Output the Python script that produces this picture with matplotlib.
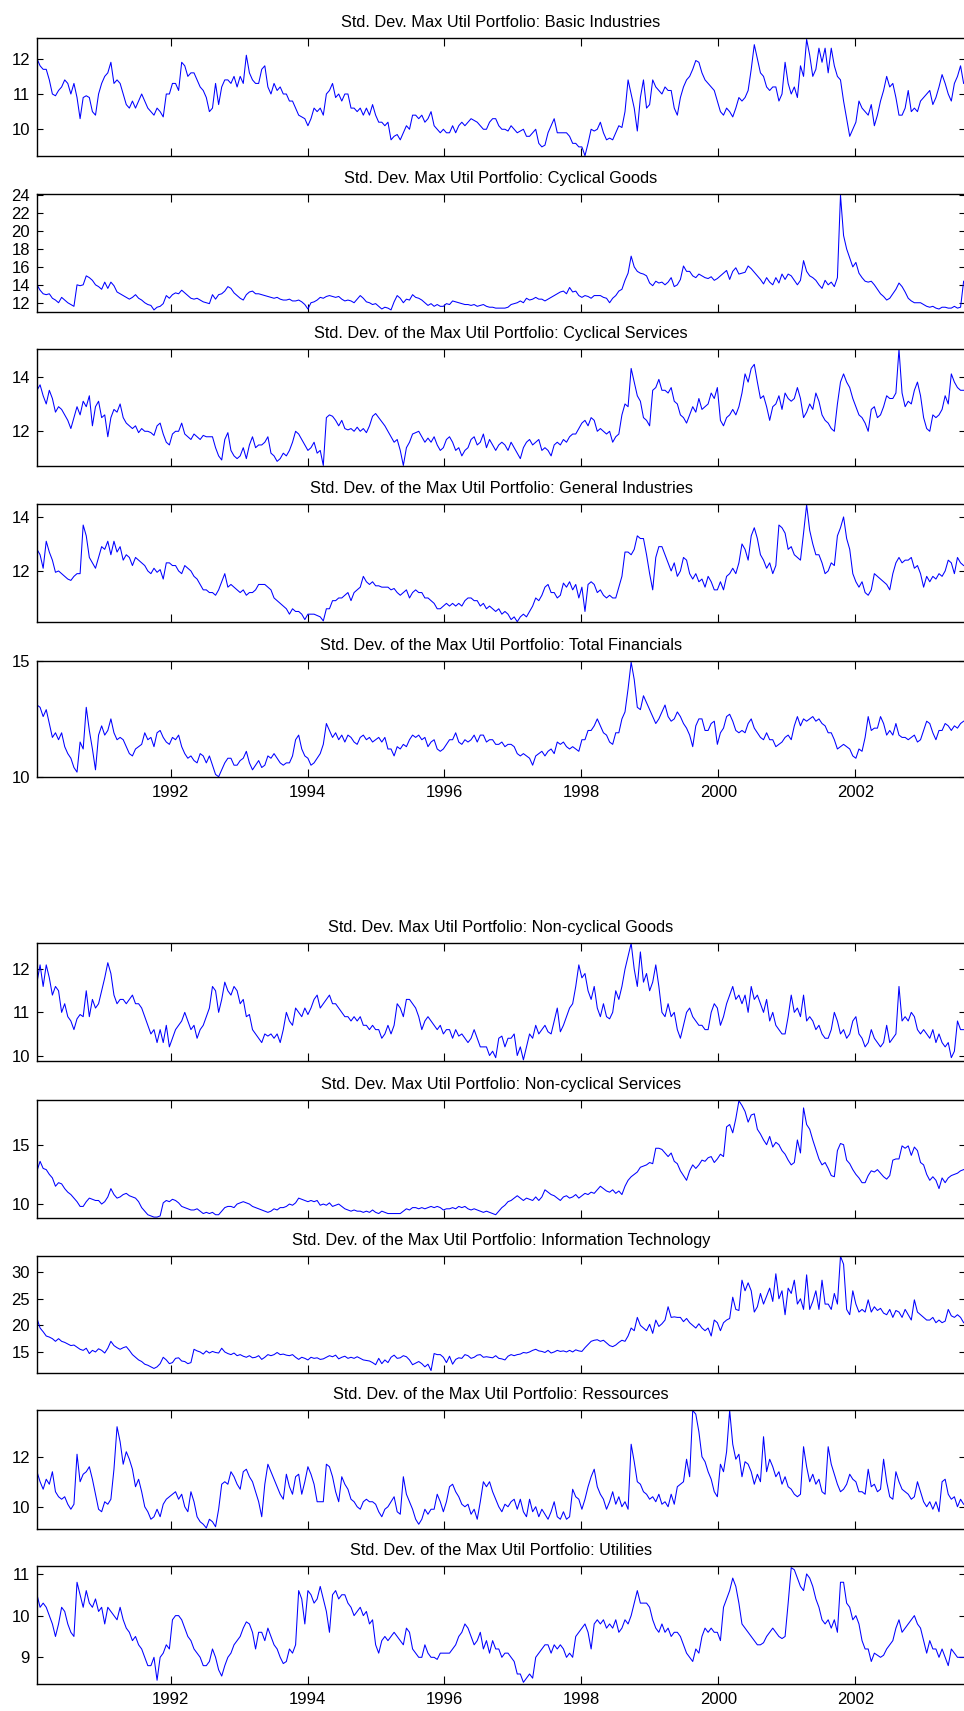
import numpy as np
import matplotlib
matplotlib.use("Agg")
import matplotlib.pyplot as plt

plt.rcParams['font.family'] = ['Liberation Sans', 'DejaVu Sans']

# sampling span of the series (decimal years)
start_year = 1990.05
end_year = 2003.58
year_ticks = [1992, 1994, 1996, 1998, 2000, 2002]

titles = [
    "Std. Dev. Max Util Portfolio: Basic Industries",
    "Std. Dev. Max Util Portfolio: Cyclical Goods",
    "Std. Dev. of the Max Util Portfolio: Cyclical Services",
    "Std. Dev. of the Max Util Portfolio: General Industries",
    "Std. Dev. of the Max Util Portfolio: Total Financials",
    "Std. Dev. Max Util Portfolio: Non-cyclical Goods",
    "Std. Dev. Max Util Portfolio: Non-cyclical Services",
    "Std. Dev. of the Max Util Portfolio: Information Technology",
    "Std. Dev. of the Max Util Portfolio: Ressources",
    "Std. Dev. of the Max Util Portfolio: Utilities",
]

basic_industries = [
    12.0, 11.8, 11.7, 11.7, 11.4, 11.0, 10.95, 11.1, 11.2, 11.4, 11.3, 11.0, 11.3, 10.9, 10.3, 10.9, 10.95, 10.9, 10.5, 10.4,
    11.0, 11.3, 11.5, 11.6, 11.9, 11.3, 11.4, 11.3, 11.0, 10.7, 10.6, 10.8, 10.6, 10.8, 11.0, 10.8, 10.6, 10.5, 10.4, 10.6,
    10.5, 10.35, 11.0, 11.0, 11.3, 11.3, 11.1, 11.9, 11.8, 11.5, 11.6, 11.6, 11.4, 11.2, 11.1, 10.9, 10.5, 10.6, 11.3, 10.7,
    11.2, 11.4, 11.4, 11.3, 11.5, 11.2, 11.5, 11.3, 12.1, 11.6, 11.4, 11.3, 11.3, 11.7, 11.8, 11.2, 11.0, 11.3, 11.1, 11.2,
    11.0, 11.0, 10.8, 10.8, 10.6, 10.4, 10.35, 10.3, 10.1, 10.3, 10.6, 10.5, 10.6, 10.4, 11.0, 11.1, 11.3, 10.9, 11.0, 10.8,
    11.0, 11.0, 10.6, 10.6, 10.5, 10.6, 10.4, 10.6, 10.4, 10.7, 10.4, 10.2, 10.2, 10.1, 10.2, 9.7, 9.8, 9.85, 9.7, 9.9,
    10.1, 10.0, 10.4, 10.4, 10.3, 10.4, 10.2, 10.3, 10.5, 10.1, 10.0, 9.9, 10.0, 9.9, 9.9, 10.1, 9.9, 10.1, 10.2, 10.1,
    10.2, 10.3, 10.25, 10.2, 10.1, 10.0, 10.0, 10.2, 10.3, 10.3, 10.1, 10.0, 10.0, 9.95, 10.1, 10.0, 9.9, 9.95, 10.0, 9.8,
    9.8, 9.9, 10.0, 9.6, 9.5, 9.55, 9.9, 10.1, 10.3, 9.9, 9.9, 9.9, 9.9, 9.8, 9.6, 9.6, 9.5, 9.5, 9.25, 9.6,
    10.0, 9.95, 10.0, 10.2, 9.9, 9.7, 9.75, 9.7, 9.9, 10.1, 10.05, 10.5, 11.4, 11.0, 10.6, 9.95, 10.9, 11.4, 10.6, 10.7,
    11.4, 11.2, 11.1, 11.0, 11.2, 11.1, 11.1, 10.6, 10.4, 10.9, 11.2, 11.4, 11.5, 11.7, 11.95, 11.9, 11.6, 11.4, 11.3, 11.2,
    11.1, 10.8, 10.5, 10.4, 10.6, 10.5, 10.35, 10.6, 10.9, 10.8, 10.9, 11.1, 11.7, 12.4, 12.0, 11.6, 11.5, 11.2, 11.1, 11.2,
    11.2, 10.8, 11.0, 11.9, 11.3, 11.0, 11.2, 10.9, 11.8, 11.5, 12.55, 12.1, 11.5, 11.7, 12.3, 11.9, 12.3, 11.6, 12.3, 11.8,
    11.5, 11.4, 10.8, 10.3, 9.8, 10.0, 10.2, 10.8, 10.6, 10.5, 10.4, 10.7, 10.1, 10.4, 10.8, 11.1, 11.5, 11.2, 11.3, 10.9,
    10.4, 10.4, 10.6, 11.1, 10.5, 10.6, 10.5, 10.8, 10.9, 11.0, 11.1, 10.7, 10.9, 11.2, 11.55, 11.3, 11.0, 10.8, 11.3, 11.5,
    11.8, 11.3,
]

cyclical_goods = [
    14.0, 13.4, 13.0, 12.9, 13.0, 12.5, 12.3, 12.0, 12.6, 12.3, 12.0, 11.8, 11.6, 14.0, 13.9, 14.0, 15.0, 14.8, 14.5, 14.0,
    13.8, 13.5, 14.3, 13.6, 14.3, 13.9, 13.2, 13.0, 12.8, 12.6, 12.4, 12.6, 12.9, 12.5, 12.3, 12.0, 11.8, 11.7, 11.2, 11.5,
    11.6, 11.9, 12.8, 12.5, 12.9, 13.1, 13.0, 13.4, 13.1, 12.8, 12.5, 12.4, 12.5, 12.3, 12.1, 12.0, 11.9, 12.9, 12.4, 12.9,
    13.0, 13.3, 13.8, 13.6, 13.1, 12.8, 12.5, 12.3, 12.9, 13.2, 13.3, 13.0, 13.0, 12.9, 12.8, 12.7, 12.6, 12.5, 12.6, 12.4,
    12.3, 12.3, 12.4, 12.2, 12.2, 12.3, 12.1, 11.8, 11.3, 12.0, 12.1, 12.3, 12.6, 12.5, 12.7, 12.8, 12.7, 12.6, 12.7, 12.4,
    12.2, 12.3, 12.2, 12.0, 12.4, 12.8, 12.5, 12.1, 12.0, 11.8, 11.9, 11.6, 11.3, 11.5, 11.4, 11.2, 12.1, 12.8, 12.5, 12.0,
    12.4, 12.3, 12.9, 12.6, 12.5, 12.3, 12.0, 11.7, 11.9, 11.6, 11.8, 11.6, 11.6, 11.9, 11.8, 12.2, 12.1, 12.0, 11.9, 11.8,
    11.8, 11.7, 11.8, 11.6, 11.7, 11.8, 11.6, 11.5, 11.5, 11.4, 11.4, 11.4, 11.4, 11.5, 11.8, 11.9, 12.0, 12.2, 12.0, 12.5,
    12.3, 12.4, 12.6, 12.4, 12.4, 12.2, 12.4, 12.6, 12.8, 13.0, 13.2, 13.3, 13.0, 13.7, 13.2, 13.3, 12.8, 12.6, 12.8, 12.7,
    12.5, 12.8, 12.8, 12.8, 12.6, 12.5, 12.0, 12.5, 12.8, 13.3, 13.5, 14.5, 15.3, 17.2, 16.0, 15.5, 15.3, 15.2, 15.0, 14.2,
    13.9, 14.4, 14.2, 14.3, 14.0, 14.3, 14.8, 13.8, 14.0, 14.6, 16.1, 15.5, 15.5, 15.0, 14.8, 15.2, 15.0, 14.8, 14.7, 14.9,
    14.5, 14.7, 15.0, 15.3, 15.6, 14.6, 15.5, 15.9, 15.2, 15.3, 15.4, 16.1, 15.8, 15.4, 15.0, 14.6, 14.1, 14.8, 14.3, 14.0,
    14.8, 14.2, 15.2, 14.6, 15.2, 15.0, 14.5, 14.0, 14.5, 16.7, 15.5, 15.0, 14.8, 14.5, 14.0, 13.6, 14.5, 14.0, 14.3, 13.8,
    14.8, 24.0, 19.5, 18.0, 17.0, 16.0, 16.5, 15.3, 14.8, 14.4, 14.3, 14.4, 14.0, 13.5, 13.0, 12.7, 12.3, 12.5, 13.0, 13.5,
    14.2, 13.8, 13.2, 12.5, 12.2, 12.0, 12.0, 12.0, 11.8, 11.6, 11.5, 11.6, 11.4, 11.3, 11.5, 11.5, 11.4, 11.4, 11.6, 11.4,
    11.5, 14.4,
]

cyclical_services = [
    13.5, 13.7, 13.3, 13.0, 13.5, 13.2, 12.7, 12.9, 12.8, 12.6, 12.4, 12.1, 12.5, 12.9, 12.6, 13.1, 12.9, 13.3, 12.2, 12.9,
    13.1, 12.5, 12.6, 11.8, 12.5, 12.8, 12.7, 13.0, 12.5, 12.3, 12.2, 12.1, 12.2, 11.95, 12.1, 12.0, 12.0, 11.95, 11.85, 12.2,
    12.3, 11.9, 11.6, 11.5, 11.9, 12.0, 12.0, 12.3, 11.9, 11.8, 11.7, 11.9, 11.8, 11.7, 11.85, 11.8, 11.8, 11.8, 11.4, 11.1,
    10.95, 11.7, 11.95, 11.3, 11.1, 11.0, 11.1, 11.4, 11.0, 11.5, 11.8, 11.4, 11.5, 11.5, 11.6, 11.8, 11.2, 11.1, 10.9, 11.0,
    11.2, 11.1, 11.3, 11.6, 12.0, 11.9, 11.7, 11.5, 11.3, 11.4, 11.6, 11.2, 11.3, 10.75, 12.5, 12.6, 12.55, 12.4, 12.2, 12.4,
    12.1, 12.05, 12.1, 12.0, 12.15, 12.0, 12.1, 11.95, 12.2, 12.55, 12.65, 12.5, 12.35, 12.2, 12.0, 11.8, 11.6, 11.7, 11.3, 10.75,
    11.4, 11.6, 11.9, 11.95, 12.0, 11.8, 11.6, 11.75, 11.6, 11.8, 11.5, 11.3, 11.4, 11.7, 11.8, 11.6, 11.3, 11.4, 11.1, 11.3,
    11.4, 11.7, 11.8, 11.5, 11.6, 11.9, 11.4, 11.7, 11.5, 11.3, 11.5, 11.6, 11.5, 11.3, 11.6, 11.4, 11.2, 11.0, 11.4, 11.6,
    11.7, 11.5, 11.6, 11.7, 11.3, 11.4, 11.3, 11.1, 11.5, 11.6, 11.5, 11.7, 11.6, 11.8, 11.9, 11.9, 12.1, 12.3, 12.4, 12.2,
    12.5, 12.4, 12.0, 12.1, 12.0, 11.9, 12.0, 11.6, 11.8, 11.9, 12.6, 13.0, 12.9, 14.3, 13.8, 13.3, 13.1, 12.5, 12.4, 12.2,
    13.5, 13.6, 13.9, 13.5, 13.5, 13.4, 13.6, 13.1, 13.0, 12.6, 12.5, 12.3, 12.6, 12.9, 12.7, 13.2, 12.8, 12.9, 13.0, 13.4,
    13.2, 13.6, 12.4, 12.2, 12.5, 12.6, 12.8, 12.6, 12.9, 13.4, 14.1, 13.8, 14.3, 14.45, 13.8, 13.2, 13.3, 12.9, 12.4, 12.9,
    13.0, 13.3, 12.8, 13.4, 13.2, 13.1, 13.2, 13.6, 13.2, 12.5, 12.7, 13.0, 12.8, 13.4, 13.1, 12.6, 12.4, 12.3, 12.1, 12.0,
    13.0, 13.8, 14.1, 13.8, 13.6, 13.2, 12.9, 12.6, 12.5, 12.3, 12.0, 12.8, 12.9, 12.5, 12.6, 12.9, 13.3, 13.2, 13.2, 13.4,
    15.0, 13.4, 12.9, 13.1, 13.0, 13.5, 13.8, 13.3, 12.5, 12.1, 12.0, 12.6, 12.5, 12.6, 12.8, 13.3, 13.0, 14.1, 13.8, 13.6,
    13.5, 13.5,
]

general_industries = [
    12.8, 12.6, 12.1, 13.1, 12.7, 12.4, 11.95, 12.0, 11.9, 11.8, 11.7, 11.65, 11.8, 11.9, 11.9, 13.7, 13.3, 12.5, 12.3, 12.1,
    12.5, 12.9, 12.8, 13.1, 12.6, 13.1, 12.7, 12.9, 12.4, 12.6, 12.5, 12.2, 12.5, 12.4, 12.3, 12.2, 12.0, 11.9, 12.1, 11.95,
    12.05, 11.7, 12.3, 12.3, 12.2, 12.2, 12.0, 11.9, 12.2, 12.1, 12.0, 11.8, 11.7, 11.5, 11.3, 11.3, 11.2, 11.2, 11.1, 11.3,
    11.6, 11.9, 11.4, 11.5, 11.4, 11.3, 11.2, 11.3, 11.1, 11.2, 11.2, 11.3, 11.5, 11.5, 11.5, 11.4, 11.3, 11.0, 10.9, 10.8,
    10.7, 10.6, 10.4, 10.6, 10.5, 10.5, 10.4, 10.2, 10.4, 10.4, 10.4, 10.35, 10.3, 10.15, 10.6, 10.6, 10.9, 10.9, 11.0, 11.0,
    11.1, 11.2, 10.9, 11.2, 11.3, 11.4, 11.8, 11.6, 11.5, 11.6, 11.45, 11.45, 11.4, 11.4, 11.4, 11.3, 11.35, 11.2, 11.1, 11.2,
    11.3, 11.0, 11.2, 11.3, 11.2, 11.2, 11.0, 11.0, 10.9, 10.8, 10.6, 10.6, 10.7, 10.8, 10.7, 10.8, 10.7, 10.8, 10.7, 10.9,
    11.0, 11.0, 10.9, 10.9, 10.7, 10.8, 10.6, 10.7, 10.6, 10.5, 10.6, 10.4, 10.5, 10.4, 10.2, 10.3, 10.12, 10.3, 10.4, 10.3,
    10.5, 10.7, 11.0, 10.9, 11.1, 11.4, 11.5, 11.2, 11.2, 11.0, 11.1, 11.55, 11.4, 11.6, 11.3, 11.5, 11.0, 11.4, 10.5, 11.5,
    11.6, 11.5, 11.2, 11.3, 11.1, 11.0, 11.1, 11.0, 11.0, 11.4, 11.8, 12.7, 12.7, 12.6, 12.8, 13.3, 13.2, 13.2, 12.6, 11.9,
    11.3, 12.5, 12.9, 12.9, 12.6, 12.3, 12.0, 12.3, 11.8, 12.0, 12.5, 12.4, 11.9, 11.7, 11.9, 11.6, 11.7, 11.4, 11.8, 11.6,
    11.3, 11.3, 11.6, 11.3, 11.8, 11.9, 12.1, 11.9, 12.3, 13.0, 12.8, 12.4, 13.3, 13.6, 13.2, 12.6, 12.4, 12.1, 12.3, 11.9,
    12.2, 13.7, 13.6, 13.4, 12.8, 12.9, 12.6, 12.5, 12.4, 13.4, 14.45, 13.5, 13.0, 12.6, 12.6, 12.3, 11.9, 12.0, 12.3, 12.2,
    13.3, 13.6, 14.0, 13.2, 12.8, 11.9, 11.6, 11.4, 11.6, 11.2, 11.1, 11.3, 11.9, 11.8, 11.7, 11.6, 11.5, 11.3, 11.9, 12.3,
    12.5, 12.3, 12.4, 12.4, 12.5, 12.1, 12.2, 11.9, 11.4, 11.8, 11.6, 11.8, 11.7, 11.9, 11.8, 12.0, 12.4, 12.3, 11.9, 12.5,
    12.3, 12.2,
]

total_financials = [
    13.1, 13.0, 12.6, 12.9, 12.3, 11.7, 11.9, 11.6, 11.9, 11.3, 11.0, 10.8, 10.4, 10.2, 11.5, 11.2, 13.0, 12.0, 11.2, 10.3,
    11.8, 12.2, 11.8, 12.0, 12.5, 11.9, 11.6, 11.7, 11.6, 11.3, 11.0, 10.9, 11.2, 11.3, 11.4, 11.9, 11.6, 11.7, 11.3, 11.9,
    12.0, 11.7, 11.5, 11.4, 11.7, 11.6, 11.8, 11.3, 11.0, 10.8, 10.9, 10.7, 10.6, 11.0, 10.9, 10.6, 10.9, 10.5, 10.1, 10.0,
    10.3, 10.6, 10.8, 10.8, 10.5, 10.5, 10.7, 10.8, 11.1, 10.6, 10.3, 10.5, 10.7, 10.4, 10.5, 10.9, 10.8, 11.0, 10.8, 10.6,
    10.5, 10.6, 10.6, 10.9, 11.6, 11.8, 11.2, 10.9, 10.8, 10.5, 10.6, 10.8, 11.0, 11.4, 12.3, 12.0, 11.7, 11.9, 11.6, 11.8,
    11.5, 11.8, 11.7, 11.5, 11.4, 11.7, 11.8, 11.6, 11.7, 11.5, 11.6, 11.7, 11.5, 11.7, 11.2, 11.2, 10.9, 11.3, 11.2, 11.4,
    11.3, 11.6, 11.8, 11.7, 11.8, 11.6, 11.7, 11.3, 11.5, 11.6, 11.2, 11.1, 11.2, 11.4, 11.6, 11.6, 11.9, 11.5, 11.4, 11.6,
    11.5, 11.6, 11.8, 11.5, 11.8, 11.8, 11.5, 11.6, 11.6, 11.4, 11.4, 11.5, 11.3, 11.4, 11.4, 11.3, 11.0, 10.9, 11.0, 10.9,
    10.8, 10.5, 10.9, 11.0, 11.1, 10.9, 11.1, 11.2, 11.0, 11.5, 11.4, 11.5, 11.3, 11.2, 11.3, 11.2, 11.1, 11.6, 11.6, 12.0,
    12.0, 12.2, 12.5, 12.2, 11.9, 11.8, 11.5, 11.4, 11.9, 11.9, 12.5, 12.8, 13.8, 14.95, 14.2, 13.0, 12.9, 13.5, 13.2, 12.9,
    12.6, 12.3, 12.5, 12.8, 13.1, 12.6, 12.4, 12.5, 12.8, 12.6, 12.3, 12.1, 11.8, 11.3, 12.2, 12.5, 12.5, 12.0, 12.0, 12.3,
    12.4, 11.4, 11.9, 12.1, 12.6, 12.7, 12.4, 12.0, 11.9, 12.0, 11.9, 12.3, 12.5, 12.1, 11.9, 11.7, 11.6, 11.9, 11.6, 11.6,
    11.3, 11.4, 11.5, 11.7, 11.8, 11.6, 12.2, 12.6, 12.2, 12.5, 12.4, 12.5, 12.6, 12.4, 12.5, 12.3, 12.2, 11.9, 11.9, 11.6,
    11.2, 11.3, 11.4, 11.3, 11.2, 10.9, 10.8, 11.2, 11.1, 11.7, 12.6, 12.0, 12.1, 12.1, 12.6, 12.3, 11.8, 12.0, 11.8, 12.3,
    11.8, 11.7, 11.7, 11.6, 11.7, 11.8, 11.5, 11.6, 12.0, 12.4, 12.3, 11.9, 11.6, 12.0, 12.0, 12.3, 12.2, 12.0, 12.2, 12.1,
    12.3, 12.4,
]

noncyclical_goods = [
    11.7, 12.1, 11.6, 12.1, 11.8, 11.4, 11.6, 11.5, 11.0, 11.2, 10.9, 10.8, 10.6, 10.85, 10.95, 10.9, 11.5, 10.9, 11.3, 11.1,
    11.2, 11.5, 11.8, 12.15, 11.9, 11.4, 11.2, 11.3, 11.3, 11.2, 11.3, 11.4, 11.2, 11.2, 11.1, 10.9, 10.7, 10.5, 10.6, 10.3,
    10.6, 10.3, 10.7, 10.2, 10.4, 10.6, 10.7, 10.8, 11.0, 10.8, 10.6, 10.7, 10.4, 10.6, 10.7, 10.9, 11.1, 11.6, 11.5, 11.0,
    11.3, 11.7, 11.5, 11.4, 11.6, 11.5, 11.2, 11.3, 10.9, 10.95, 10.6, 10.5, 10.4, 10.3, 10.5, 10.45, 10.5, 10.4, 10.5, 10.3,
    10.6, 11.0, 10.8, 10.7, 11.1, 11.0, 10.9, 11.1, 10.95, 11.1, 11.3, 11.4, 11.1, 11.2, 11.3, 11.4, 11.2, 11.2, 11.1, 11.0,
    10.9, 10.9, 10.8, 10.9, 10.8, 10.9, 10.7, 10.7, 10.6, 10.7, 10.6, 10.6, 10.4, 10.5, 10.7, 10.5, 10.7, 11.2, 11.1, 10.9,
    11.3, 11.3, 11.2, 11.1, 10.9, 10.6, 10.8, 10.9, 10.8, 10.7, 10.6, 10.7, 10.5, 10.6, 10.6, 10.4, 10.6, 10.45, 10.5, 10.4,
    10.3, 10.4, 10.6, 10.4, 10.2, 10.2, 10.2, 10.0, 10.1, 9.95, 10.4, 10.45, 10.2, 10.4, 10.4, 10.5, 10.0, 10.2, 9.9, 10.2,
    10.5, 10.4, 10.7, 10.5, 10.6, 10.7, 10.55, 10.5, 10.8, 11.1, 10.55, 10.7, 10.9, 11.1, 11.2, 11.6, 12.1, 11.8, 11.9, 11.5,
    11.3, 11.6, 11.1, 10.9, 11.2, 10.9, 10.85, 11.0, 11.5, 11.3, 11.6, 12.0, 12.3, 12.6, 12.0, 11.6, 12.4, 11.7, 11.9, 11.5,
    11.7, 12.1, 11.6, 11.0, 10.9, 11.2, 10.9, 11.0, 10.6, 10.4, 10.7, 11.0, 11.1, 10.9, 10.8, 10.7, 10.7, 10.6, 10.6, 11.0,
    11.2, 11.1, 10.7, 10.9, 11.2, 11.4, 11.6, 11.3, 11.4, 11.2, 11.4, 11.0, 11.6, 11.3, 11.4, 11.2, 11.0, 11.3, 10.8, 11.0,
    10.7, 10.6, 10.5, 10.5, 10.9, 11.4, 11.0, 11.1, 10.9, 11.4, 10.8, 10.9, 10.8, 10.6, 10.7, 10.5, 10.4, 10.4, 10.6, 11.0,
    10.8, 10.5, 10.6, 10.4, 10.5, 10.8, 10.9, 10.5, 10.4, 10.2, 10.3, 10.6, 10.4, 10.3, 10.2, 10.3, 10.7, 10.3, 10.4, 10.5,
    11.6, 10.8, 10.9, 10.8, 11.0, 10.9, 10.6, 10.5, 10.6, 10.5, 10.4, 10.6, 10.3, 10.5, 10.3, 10.2, 10.3, 9.95, 10.1, 10.8,
    10.6, 10.6,
]

noncyclical_services = [
    12.8, 13.6, 13.0, 12.9, 12.5, 12.2, 11.5, 11.8, 11.7, 11.3, 11.0, 10.8, 10.5, 10.2, 9.8, 9.8, 10.2, 10.5, 10.4, 10.3,
    10.3, 10.0, 10.2, 10.6, 11.3, 10.8, 10.5, 10.6, 10.8, 10.9, 10.7, 10.6, 10.5, 10.2, 9.7, 9.4, 9.1, 9.0, 8.9, 8.9,
    9.0, 10.1, 10.3, 10.2, 10.4, 10.3, 10.1, 9.8, 9.7, 9.6, 9.5, 9.5, 9.6, 9.4, 9.2, 9.3, 9.2, 9.3, 9.1, 9.1,
    9.4, 9.7, 9.8, 9.8, 9.7, 10.0, 10.1, 10.2, 10.1, 10.0, 9.8, 9.7, 9.6, 9.5, 9.4, 9.3, 9.4, 9.6, 9.5, 9.7,
    9.7, 9.8, 10.0, 9.9, 10.1, 10.5, 10.4, 10.3, 10.2, 10.3, 10.2, 10.3, 9.9, 10.0, 9.9, 10.1, 9.8, 9.9, 10.0, 9.8,
    9.6, 9.5, 9.4, 9.5, 9.4, 9.4, 9.3, 9.4, 9.3, 9.5, 9.3, 9.2, 9.4, 9.3, 9.2, 9.2, 9.2, 9.2, 9.2, 9.4,
    9.6, 9.5, 9.7, 9.7, 9.6, 9.7, 9.6, 9.7, 9.8, 9.7, 9.8, 9.7, 9.5, 9.6, 9.6, 9.7, 9.6, 9.8, 9.7, 9.8,
    9.6, 9.5, 9.6, 9.5, 9.4, 9.3, 9.4, 9.3, 9.2, 9.1, 9.4, 9.7, 9.9, 10.2, 10.3, 10.5, 10.7, 10.5, 10.3, 10.5,
    10.4, 10.3, 10.6, 10.3, 10.6, 11.2, 11.0, 10.8, 10.7, 10.5, 10.3, 10.6, 10.7, 10.5, 10.6, 10.8, 10.5, 10.7, 10.9, 10.8,
    11.0, 10.9, 11.2, 11.5, 11.3, 11.1, 11.0, 11.2, 10.9, 11.1, 10.8, 11.5, 12.0, 12.3, 12.5, 12.7, 13.1, 13.2, 13.3, 13.5,
    13.4, 14.7, 14.7, 14.6, 14.3, 14.0, 14.3, 13.6, 13.4, 12.8, 12.4, 12.0, 12.8, 13.3, 13.0, 13.3, 13.7, 13.6, 13.9, 14.0,
    13.5, 13.8, 14.2, 14.0, 16.5, 16.7, 16.0, 17.2, 18.7, 18.3, 17.8, 16.9, 17.5, 17.6, 16.3, 15.9, 15.4, 15.0, 15.7, 14.8,
    15.2, 15.0, 14.5, 14.2, 13.7, 13.3, 13.5, 15.4, 14.3, 18.1, 16.7, 16.3, 15.4, 14.6, 13.8, 13.3, 13.5, 13.0, 12.4, 12.3,
    14.5, 15.1, 15.0, 13.7, 13.4, 12.9, 12.5, 12.2, 11.8, 11.8, 12.4, 12.8, 12.7, 12.9, 12.6, 12.3, 12.1, 12.4, 13.7, 13.8,
    13.8, 14.9, 14.7, 14.9, 14.1, 14.8, 14.5, 13.5, 13.3, 12.5, 12.0, 12.3, 12.0, 11.3, 12.2, 11.8, 12.2, 12.4, 12.5, 12.6,
    12.8, 12.9,
]

information_technology = [
    21.3, 19.5, 18.8, 18.0, 17.8, 17.5, 17.0, 17.5, 17.0, 16.8, 16.5, 16.2, 16.3, 15.9, 15.5, 15.3, 15.7, 14.7, 15.3, 15.0,
    15.6, 15.3, 14.8, 15.7, 17.0, 16.2, 15.8, 15.5, 15.8, 16.0, 15.3, 14.5, 14.0, 13.5, 13.2, 12.7, 12.5, 12.2, 11.9, 12.2,
    12.8, 14.0, 13.5, 12.8, 13.0, 13.8, 13.9, 13.3, 13.2, 12.8, 13.0, 15.5, 15.2, 15.0, 14.6, 15.2, 14.8, 15.1, 14.9, 14.8,
    15.7, 15.0, 14.7, 14.5, 14.8, 14.3, 14.5, 14.2, 14.0, 14.3, 13.9, 14.0, 14.3, 13.6, 14.0, 14.5, 14.3, 14.5, 14.9, 14.5,
    14.6, 14.4, 14.3, 14.5, 14.0, 13.6, 14.0, 13.8, 13.5, 14.0, 13.8, 13.9, 13.6, 13.7, 14.0, 14.3, 14.1, 14.4, 13.7, 14.0,
    14.2, 13.8, 14.0, 13.8, 14.1, 13.8, 13.5, 13.4, 13.3, 13.0, 12.6, 13.8, 12.8, 13.5, 13.0, 14.0, 14.4, 13.8, 13.9, 14.3,
    14.1, 13.5, 12.6, 12.9, 13.2, 12.8, 12.2, 12.7, 11.5, 14.7, 14.5, 14.5, 14.0, 13.0, 14.2, 12.7, 13.6, 13.9, 13.8, 14.5,
    14.3, 13.8, 14.0, 14.4, 14.5, 14.0, 14.1, 14.0, 13.9, 14.3, 13.8, 13.7, 13.5, 14.2, 14.5, 14.3, 14.5, 14.6, 14.9, 14.8,
    15.0, 15.3, 15.5, 15.2, 15.1, 14.9, 15.3, 14.8, 15.0, 15.3, 15.1, 15.2, 15.0, 15.3, 15.0, 15.4, 15.2, 15.1, 15.8, 16.4,
    17.0, 17.2, 17.3, 17.0, 17.2, 16.7, 16.2, 16.0, 16.3, 16.8, 17.2, 17.0, 18.0, 19.5, 19.0, 21.5, 20.0, 19.5, 19.0, 20.2,
    18.5, 21.0, 19.8, 20.3, 21.0, 23.5, 21.5, 21.6, 21.5, 21.5, 20.7, 21.3, 20.5, 20.0, 19.5, 20.3, 19.5, 19.0, 19.5, 18.0,
    21.0, 20.5, 19.0, 20.5, 21.0, 21.3, 25.3, 23.0, 22.8, 28.5, 26.5, 28.0, 26.5, 22.5, 23.5, 26.0, 24.0, 25.5, 27.0, 24.5,
    29.7, 25.0, 26.5, 22.0, 27.0, 26.0, 28.5, 24.0, 25.0, 23.0, 29.5, 23.0, 24.5, 26.5, 23.0, 28.5, 24.0, 24.0, 23.0, 26.0,
    24.0, 33.0, 31.5, 23.0, 22.0, 26.5, 24.0, 22.5, 23.0, 22.5, 24.8, 22.5, 23.5, 22.8, 23.2, 22.3, 22.0, 23.0, 21.5, 22.8,
    22.5, 21.5, 23.0, 22.0, 21.0, 24.8, 22.5, 22.0, 21.5, 21.0, 21.0, 21.5, 20.5, 21.0, 20.5, 20.8, 23.0, 21.8, 21.5, 22.0,
    21.5, 20.5,
]

ressources = [
    11.4, 11.0, 10.7, 11.1, 10.9, 11.4, 10.6, 10.4, 10.3, 10.4, 10.1, 9.9, 10.1, 12.1, 11.0, 11.3, 11.4, 11.6, 11.1, 10.5,
    9.9, 9.8, 10.2, 10.1, 10.3, 11.5, 13.2, 12.6, 11.7, 12.2, 11.9, 11.5, 10.8, 11.1, 10.6, 10.0, 9.8, 9.5, 9.6, 9.9,
    9.6, 10.1, 10.3, 10.4, 10.5, 10.6, 10.3, 10.5, 10.0, 9.8, 10.6, 10.2, 9.6, 9.4, 9.3, 9.15, 9.5, 9.4, 9.2, 9.9,
    10.9, 11.0, 10.9, 11.4, 11.2, 10.9, 10.7, 11.4, 11.5, 11.2, 11.0, 10.6, 10.2, 9.6, 10.9, 11.7, 11.4, 11.1, 10.8, 10.5,
    10.3, 11.3, 10.8, 10.5, 11.2, 11.3, 10.5, 11.0, 11.6, 11.3, 10.9, 10.2, 10.2, 10.2, 11.7, 11.6, 11.2, 10.6, 10.2, 11.2,
    10.9, 10.7, 10.3, 10.2, 10.0, 9.9, 10.2, 10.3, 10.2, 10.2, 10.1, 9.8, 9.6, 9.9, 10.0, 10.2, 10.4, 9.8, 9.7, 11.2,
    10.5, 10.2, 9.9, 9.5, 9.3, 9.5, 9.9, 9.7, 9.9, 9.9, 10.5, 10.2, 9.8, 10.2, 10.8, 10.9, 10.6, 10.4, 10.1, 10.0,
    10.1, 9.7, 9.9, 9.5, 10.2, 11.0, 10.8, 11.0, 10.6, 10.3, 10.0, 9.8, 10.1, 10.0, 10.2, 10.3, 9.9, 10.3, 9.8, 9.6,
    10.3, 9.8, 10.0, 9.6, 9.9, 9.7, 9.5, 9.8, 10.2, 9.6, 9.5, 9.8, 9.5, 9.6, 10.7, 10.4, 10.3, 9.9, 10.3, 10.8,
    11.2, 11.5, 10.8, 10.5, 10.3, 9.9, 10.2, 10.6, 10.1, 10.4, 10.0, 10.2, 9.9, 12.5, 11.8, 11.0, 10.9, 10.6, 10.5, 10.3,
    10.4, 10.2, 10.5, 10.1, 10.2, 10.0, 10.5, 10.1, 10.8, 10.9, 11.0, 11.9, 11.2, 13.85, 13.7, 13.0, 12.0, 11.8, 11.4, 11.1,
    10.6, 10.4, 11.7, 11.4, 12.2, 13.85, 12.5, 11.9, 12.1, 11.2, 11.8, 11.7, 11.4, 10.9, 11.3, 11.0, 12.8, 11.4, 11.9, 11.6,
    11.2, 11.4, 10.9, 11.2, 10.8, 10.7, 10.5, 10.4, 10.5, 12.4, 11.6, 11.0, 11.3, 10.9, 11.1, 10.6, 10.5, 12.4, 11.7, 11.3,
    10.9, 10.6, 10.7, 10.9, 11.3, 11.1, 11.0, 10.6, 10.6, 10.5, 11.5, 10.8, 10.9, 10.6, 10.7, 11.9, 11.0, 10.4, 10.3, 11.4,
    11.0, 10.7, 10.6, 10.5, 10.3, 10.4, 11.0, 10.6, 10.2, 10.0, 10.2, 9.9, 10.2, 9.8, 11.0, 11.1, 10.5, 10.3, 10.4, 10.0,
    10.3, 10.1,
]

utilities = [
    10.5, 10.2, 10.3, 10.2, 10.0, 9.8, 9.5, 9.8, 10.2, 10.1, 9.8, 9.6, 9.5, 10.8, 10.5, 10.2, 10.6, 10.3, 10.2, 10.4,
    10.1, 10.2, 9.8, 10.2, 10.1, 10.0, 9.9, 10.2, 9.9, 9.7, 9.6, 9.4, 9.5, 9.3, 9.2, 9.0, 8.8, 8.8, 9.0, 8.45,
    9.0, 9.1, 9.3, 9.2, 9.9, 10.0, 10.0, 9.9, 9.7, 9.5, 9.4, 9.2, 9.1, 9.0, 8.8, 8.8, 8.9, 9.2, 9.0, 8.7,
    8.55, 8.8, 9.0, 9.1, 9.3, 9.4, 9.5, 9.7, 9.85, 9.8, 9.6, 9.2, 9.6, 9.6, 9.4, 9.7, 9.5, 9.3, 9.2, 9.0,
    8.85, 8.9, 9.2, 9.1, 9.3, 10.6, 10.4, 9.8, 10.6, 10.5, 10.3, 10.4, 10.7, 10.4, 10.1, 9.6, 10.5, 10.6, 10.4, 10.5,
    10.5, 10.3, 10.2, 10.0, 10.1, 10.2, 10.0, 10.1, 9.8, 9.9, 9.3, 9.1, 9.4, 9.5, 9.4, 9.5, 9.6, 9.5, 9.4, 9.3,
    9.7, 9.6, 9.2, 9.1, 9.0, 9.0, 9.3, 9.1, 9.0, 9.0, 8.95, 9.1, 9.1, 9.1, 9.1, 9.2, 9.3, 9.5, 9.6, 9.8,
    9.7, 9.5, 9.3, 9.4, 9.6, 9.2, 9.4, 9.1, 9.4, 9.2, 9.2, 9.0, 9.1, 9.1, 9.0, 8.9, 8.6, 8.6, 8.4, 8.5,
    8.6, 8.5, 9.0, 9.1, 9.2, 9.3, 9.3, 9.1, 9.3, 9.2, 9.3, 9.2, 9.0, 9.1, 9.0, 9.5, 9.6, 9.7, 9.8, 9.6,
    9.2, 9.8, 9.9, 9.8, 9.9, 9.7, 9.8, 9.7, 9.9, 9.6, 9.7, 9.9, 9.8, 10.0, 10.3, 10.6, 10.3, 10.3, 10.3, 10.2,
    9.9, 9.7, 9.6, 9.8, 9.6, 9.7, 9.5, 9.6, 9.6, 9.5, 9.3, 9.1, 9.0, 8.9, 9.2, 9.1, 9.5, 9.7, 9.6, 9.7,
    9.6, 9.6, 9.4, 10.2, 10.4, 10.6, 10.9, 10.7, 10.3, 9.8, 9.7, 9.6, 9.5, 9.4, 9.3, 9.3, 9.35, 9.5, 9.6, 9.7,
    9.6, 9.5, 9.45, 9.5, 10.3, 11.15, 11.1, 10.9, 10.7, 10.6, 11.0, 10.9, 10.7, 10.4, 10.2, 9.9, 9.8, 9.9, 9.7, 9.9,
    9.6, 10.8, 10.8, 10.3, 10.2, 9.9, 10.0, 9.8, 9.4, 9.2, 9.2, 8.9, 9.1, 9.05, 9.0, 9.05, 9.2, 9.3, 9.4, 9.7,
    9.9, 9.6, 9.7, 9.8, 9.9, 10.0, 9.8, 9.7, 9.4, 9.1, 9.4, 9.2, 9.2, 9.0, 9.2, 9.0, 8.8, 9.2, 9.1, 9.0,
    9.0, 9.0,
]

series = [basic_industries, cyclical_goods, cyclical_services, general_industries,
          total_financials, noncyclical_goods, noncyclical_services,
          information_technology, ressources, utilities]

ytick_sets = [[10, 11, 12], [12, 14, 16, 18, 20, 22, 24], [12, 14], [12, 14], [10, 15],
              [10, 11, 12], [10, 15], [15, 20, 25, 30], [10, 12], [9, 10, 11]]
ylims = [(9.25, 12.58), (11.0, 24.1), (10.73, 15.0), (10.11, 14.49), (9.99, 15.0),
         (9.88, 12.6), (8.85, 18.74), (11.1, 33.1), (9.11, 13.88), (8.36, 11.19)]

# layout in pixels (top, bottom) of each axes box
W, H = 964, 1711
tops = [38.3, 194.3, 349.3, 503.7, 661.0, 943.3, 1100.3, 1255.7, 1409.7, 1566.0]
bottoms = [155.7, 311.7, 466.0, 622.0, 777.0, 1060.7, 1217.7, 1372.7, 1529.0, 1684.0]
left_px, right_px = 37.0, 965.0
labelled = {4, 9}

fig = plt.figure(figsize=(W / 100, H / 100), dpi=100)
for i in range(len(series)):
    ax = fig.add_axes([left_px / W, 1 - bottoms[i] / H,
                       (right_px - left_px) / W, (bottoms[i] - tops[i]) / H])
    vals = np.asarray(series[i], dtype=float)
    t = np.linspace(start_year, end_year, len(vals))
    ax.plot(t, vals, color=(0, 0, 1), lw=0.75)
    ax.set_xlim(1990.05, 2003.6)
    ax.set_ylim(*ylims[i])
    ax.set_xticks(year_ticks)
    if i in labelled:
        ax.set_xticklabels([str(y) for y in year_ticks])
    else:
        ax.set_xticklabels([])
    ax.set_yticks(ytick_sets[i])
    ax.set_yticklabels([str(v) for v in ytick_sets[i]])
    ax.tick_params(axis='x', direction='in', top=True, bottom=True, length=6,
                   width=0.8, labelsize=12, pad=6)
    ax.tick_params(axis='y', direction='in', left=True, right=True, length=4,
                   width=0.8, labelsize=12, pad=5)
    for sp in ax.spines.values():
        sp.set_linewidth(1.0)
    ax.set_title(titles[i], fontsize=11.8, pad=8)

fig.savefig("out.png", dpi=100)
